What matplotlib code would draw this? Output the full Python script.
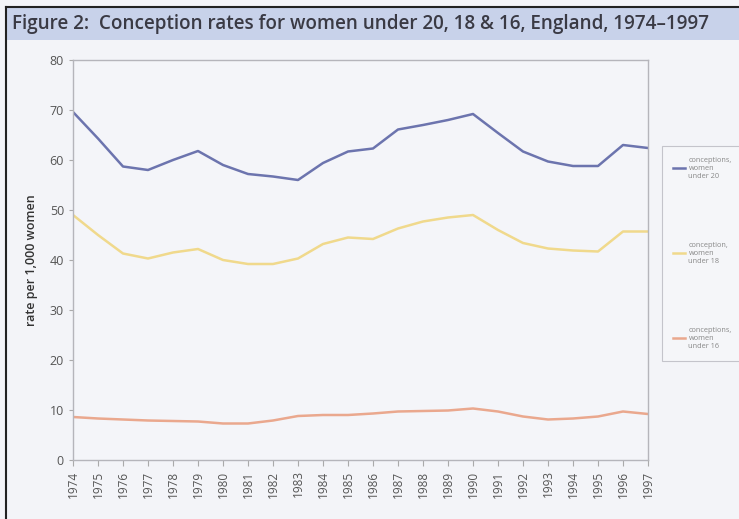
import matplotlib.pyplot as plt
from matplotlib.patches import Rectangle
from matplotlib.lines import Line2D

years = list(range(1974, 1998))

# conception rates per 1,000 women
under_20 = [69.6, 64.3, 58.7, 58.0, 60.0, 61.8, 59.0, 57.2, 56.7, 56.0, 59.4, 61.7,
            62.3, 66.1, 67.0, 68.0, 69.2, 65.4, 61.7, 59.7, 58.8, 58.8, 63.0, 62.4]
under_18 = [49.0, 45.0, 41.3, 40.3, 41.5, 42.2, 40.0, 39.2, 39.2, 40.3, 43.2, 44.5,
            44.2, 46.3, 47.7, 48.5, 49.0, 46.0, 43.4, 42.3, 41.9, 41.7, 45.7, 45.7]
under_16 = [8.6, 8.3, 8.1, 7.9, 7.8, 7.7, 7.3, 7.3, 7.9, 8.8, 9.0, 9.0,
            9.3, 9.7, 9.8, 9.9, 10.3, 9.7, 8.7, 8.1, 8.3, 8.7, 9.7, 9.2]

labels = ['conceptions,\nwomen\nunder 20', 'conception,\nwomen\nunder 18', 'conceptions,\nwomen\nunder 16']
colors = ['#6c74ae', '#f0d98c', '#eaa88e']

plt.rcParams['font.family'] = ['Open Sans', 'DejaVu Sans']

fig = plt.figure(figsize=(7.39, 5.19), dpi=100)
fig.patch.set_facecolor('#f3f4f8')

# title band and dark frame
fig.add_artist(Rectangle((6 / 739, 1 - 40 / 519), 1, 33 / 519, transform=fig.transFigure,
                         facecolor='#c8d2ea', edgecolor='none', zorder=0))
fig.add_artist(Line2D([6 / 739, 6 / 739], [0, 1 - 7 / 519], transform=fig.transFigure,
                      color='#222222', lw=1.5))
fig.add_artist(Line2D([6 / 739, 1], [1 - 7 / 519, 1 - 7 / 519], transform=fig.transFigure,
                      color='#222222', lw=1.5))
fig.text(12 / 739, 1 - 24 / 519, 'Figure 2:  Conception rates for women under 20, 18 & 16, England, 1974\u20131997',
         fontsize=13.6, fontweight='semibold', color='#3a3a44', va='center', ha='left')

ax = fig.add_axes([73 / 739, 1 - 460 / 519, 575 / 739, 400 / 519])
ax.set_facecolor('#f4f5f9')

for vals, lab, col in zip([under_20, under_18, under_16], labels, colors):
    ax.plot(years, vals, color=col, lw=1.8, label=lab)

ax.set_xlim(1974, 1997)
ax.set_ylim(0, 80)
ax.set_yticks(range(0, 81, 10))
ax.set_xticks(years)
ax.set_xticklabels([str(y) for y in years], rotation=90, fontsize=8.5, color='#555555')
ax.tick_params(axis='y', labelsize=9, colors='#555555', length=3, color='#aaaaaa')
ax.tick_params(axis='x', length=4, color='#aaaaaa')
for s in ax.spines.values():
    s.set_color('#b5b5bb')
    s.set_linewidth(1)
ax.set_ylabel('rate per 1,000 women', fontsize=9, fontweight='semibold', color='#333333', labelpad=8)

leg = ax.legend(loc='upper left', bbox_to_anchor=(662 / 739, 1 - 146 / 519),
                bbox_transform=fig.transFigure, fontsize=5.3, labelspacing=8.4,
                handlelength=1.6, handletextpad=0.5, borderpad=1.5, borderaxespad=0,
                frameon=True, fancybox=False, edgecolor='#b8b8c0', facecolor='#f6f7fa')
for t in leg.get_texts():
    t.set_color('#888888')
leg.get_frame().set_linewidth(0.8)

fig.savefig('out.png', dpi=100, facecolor=fig.get_facecolor())
